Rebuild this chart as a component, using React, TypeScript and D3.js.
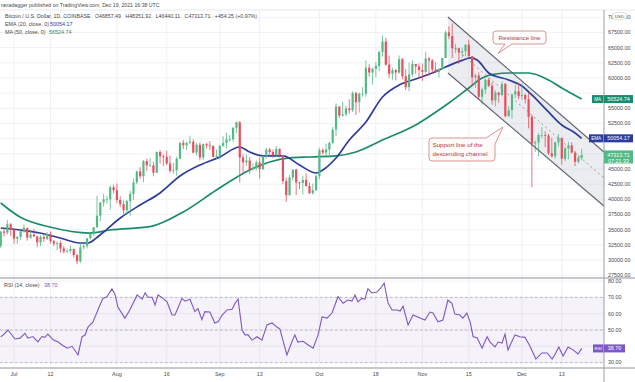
import React from 'react';
import * as d3 from 'd3';

// ---------- DATA ----------
const START = Date.UTC(2021, 5, 27); // Jun 27, 2021 (index 0)
const DAY = 86400000;

const OPEN = [
  32300, 34700, 34500, 35900,
  35000, 33500, 33800, 34700, 35300, 33700, 34200, 33900, 32900, 33800, 33500, 34300, 33100, 32700, 32800, 31900, 31400, 31500, 31800, 30800, 29800, 32100, 32300, 33600, 34300, 35400, 37300, 39500, 40000, 40000, 42000,
  41500, 39900, 39200, 38200, 39700, 40900, 42800, 44600, 43800, 46300, 45600, 45600, 44400, 47800, 47100, 47000, 45900, 44700, 44800, 46700, 49300, 48900, 49300, 49500, 47700, 49000, 46900, 49100, 48900, 48800, 47000,
  47200, 48800, 49300, 49900, 49900, 51800, 52700, 46900, 46100, 46400, 44900, 45200, 46100, 45000, 47100, 48200, 47800, 47300, 48300, 47300, 43000, 40700, 43600, 44900, 42800, 42700, 43200, 42200, 41000, 41500,
  43800, 48100, 47700, 48200, 49300, 51500, 55300, 53800, 54000, 55000, 54700, 57500, 56000, 57400, 57400, 61700, 60900, 61500, 62000, 64300, 66000, 62200, 60700, 61300, 60900, 63100, 60300, 58500, 60600, 62300, 61900,
  61300, 61000, 63200, 62900, 61400, 61000, 61500, 63300, 67500, 66900, 64900, 64900, 64200, 64400, 65500, 63600, 60100, 60400, 56900, 58100, 59700, 58700, 56300, 57600, 57200, 59000, 53700, 54700, 57300, 57800,
  57000, 57200, 56500, 53600, 49200, 49400, 50600, 50600, 50500, 47600, 47100, 49400, 50100, 46700, 48400, 48900, 47700, 46200, 46857.49,
];
const HIGH = [
  34700, 35300, 36600, 36100,
  35100, 33900, 34900, 35900, 35300, 35000, 35100, 33900, 34100, 34300, 34600, 34700, 33300, 33100, 33200, 32300, 31900, 32400, 31900, 31000, 32800, 32600, 33600, 34500, 35400, 40600, 39500, 40900, 40600, 42300, 42400,
  42600, 40500, 39800, 39900, 41400, 43400, 44700, 45300, 46500, 46700, 46800, 46200, 47900, 48100, 47400, 48000, 47200, 46000, 47000, 49400, 49800, 49500, 50500, 49900, 49300, 49400, 49200, 49300, 49600, 48900, 48200,
  49000, 50400, 51000, 50600, 51900, 52800, 52900, 47400, 47400, 47000, 45900, 46400, 46900, 47200, 48500, 48500, 48200, 48800, 48400, 47300, 43600, 44000, 44900, 45000, 42900, 43900, 44300, 42800, 42600, 44100,
  48500, 48400, 49200, 49500, 51900, 55800, 55300, 56100, 55500, 56500, 57800, 57700, 57600, 58500, 62900, 62300, 61700, 62600, 64500, 67000, 66600, 63700, 61700, 61500, 63700, 63300, 61500, 62500, 62900, 62300, 62400,
  62400, 64300, 63500, 63100, 62600, 61600, 63300, 67800, 68500, 69000, 65600, 65000, 65000, 65500, 66300, 63600, 60700, 60900, 58400, 59900, 60000, 59300, 58000, 57700, 59400, 59200, 55300, 57400, 58900, 59200,
  59100, 57400, 57600, 53900, 49700, 50900, 51900, 51200, 50800, 50100, 49500, 50800, 50200, 48700, 49500, 49400, 48000, 47300, 48351.92,
];
const LOW = [
  32000, 33900, 34200, 34000,
  32700, 32700, 33300, 34500, 33200, 33500, 33800, 32100, 32300, 33000, 33300, 32700, 32300, 31600, 31200, 31100, 31200, 31100, 30400, 29300, 29500, 31700, 31900, 33400, 33900, 35300, 36400, 38800, 39300, 38300, 41000,
  39400, 38700, 37600, 37500, 37300, 39900, 42500, 43400, 42800, 44700, 45400, 43800, 44300, 45900, 45500, 45700, 44400, 44200, 43900, 46600, 48300, 48100, 49100, 47600, 47200, 46400, 46400, 48400, 48100, 46900, 46700,
  46600, 48700, 48400, 49500, 49500, 50900, 42800, 44400, 45500, 44200, 44800, 44800, 43400, 44800, 46700, 47100, 46800, 47100, 46900, 42500, 39600, 40600, 43100, 40700, 41700, 40800, 42100, 40900, 40800, 41400,
  43300, 47400, 47100, 46900, 49100, 50400, 53400, 53600, 53700, 54100, 54400, 53900, 54300, 56900, 56900, 60200, 58900, 60100, 61100, 63500, 62000, 60000, 59700, 59600, 60700, 59800, 58000, 57800, 60200, 60700, 59900,
  59500, 60700, 60400, 60700, 60800, 60100, 61300, 63300, 66400, 63300, 64100, 62300, 63400, 63600, 63500, 58600, 58400, 56500, 55600, 57400, 58500, 55600, 55300, 55900, 57000, 53500, 53600, 53300, 56700, 56500,
  56400, 55800, 51700, 42000, 47800, 47100, 50100, 48600, 47300, 46900, 46700, 48700, 45700, 46300, 46600, 47600, 45500, 45900, 46440.11,
];
const CLOSE = [
  34700, 34500, 35900, 35000,
  33500, 33800, 34700, 35300, 33700, 34200, 33900, 32900, 33800, 33500, 34300, 33100, 32700, 32800, 31900, 31400, 31500, 31800, 30800, 29800, 32100, 32300, 33600, 34300, 35400, 37300, 39500, 40000, 40000, 42000, 41500,
  39900, 39200, 38200, 39700, 40900, 42800, 44600, 43800, 46300, 45600, 45600, 44400, 47800, 47100, 47000, 45900, 44700, 44800, 46700, 49300, 48900, 49300, 49500, 47700, 49000, 46900, 49100, 48900, 48800, 47000, 47200,
  48800, 49300, 49900, 49900, 51800, 52700, 46900, 46100, 46400, 44900, 45200, 46100, 45000, 47100, 48200, 47800, 47300, 48300, 47300, 43000, 40700, 43600, 44900, 42800, 42700, 43200, 42200, 41000, 41500, 43800,
  48100, 47700, 48200, 49300, 51500, 55300, 53800, 54000, 55000, 54700, 57500, 56000, 57400, 57400, 61700, 60900, 61500, 62000, 64300, 66000, 62200, 60700, 61300, 60900, 63100, 60300, 58500, 60600, 62300, 61900, 61300,
  61000, 63200, 62900, 61400, 61000, 61500, 63300, 67500, 66900, 64900, 64900, 64200, 64400, 65500, 63600, 60100, 60400, 56900, 58100, 59700, 58700, 56300, 57600, 57200, 59000, 53700, 54700, 57300, 57800, 57000,
  57200, 56500, 53600, 49200, 49400, 50600, 50600, 50500, 47600, 47100, 49400, 50100, 46700, 48400, 48900, 47700, 46200, 46857.49, 47313.71,
];

// EMA(20): [day index, price]
const EMA20: [number, number][] = [
  [0, 35280], [5.8, 34950], [11.8, 34460], [17.9, 33630], [23.9, 32810], [26.3, 32810], [29.9, 34130],
  [36, 36930], [42, 39070], [48, 41050], [54, 43850], [60, 45660], [66, 46980], [72, 48630], [75, 47800],
  [79, 47150], [85, 47150], [90, 45660], [95, 44340], [97, 44840], [101, 46820], [105, 49780], [110, 52750],
  [115, 56870], [120, 58850], [125, 59840], [130, 60820], [134, 61810], [139, 62900], [141.5, 63300], [143.5, 62970],
  [147, 60820], [153, 59670], [157, 58680], [160, 57200], [165, 54400], [169, 52250], [173, 50930], [175, 50054.17],
];
// MA(50)
const MA50: [number, number][] = [
  [0, 39400], [5.8, 37090], [14.8, 35440], [26.9, 34450], [32.9, 34950], [45, 35500], [55, 37920],
  [65, 41540], [75, 44840], [81, 46160], [87, 46820], [93, 46980], [101, 47150], [107, 47800], [115, 49780],
  [125, 52250], [132, 54730], [135, 55880], [141, 58350], [145, 60000], [149, 60660], [153, 60820],
  [159, 60820], [165, 59670], [169, 58350], [175, 56524.74],
];
// RSI(14)
const RSI: [number, number][] = [
  [0, 45.9], [0.8, 47], [2.2, 50], [4.3, 44.5], [5.8, 45], [7.3, 48], [8.2, 45], [9.7, 46], [11.2, 42.7],
  [12.4, 46], [13.3, 45.5], [14.2, 47.5], [15.8, 44], [17.3, 42.6], [18.5, 40.8], [20, 38.8], [21.5, 40],
  [23.3, 34.7], [24.5, 45.9], [25.4, 46.9], [26.3, 51.8], [27.8, 55], [29.9, 65.3], [30.8, 69.4], [32, 70.4],
  [33.5, 75.2], [34.4, 72.1], [35.3, 64.1], [37.4, 57.3], [38.9, 62.3], [41.1, 71.5], [42.6, 68.9], [43.5, 72.8],
  [44.4, 70.1], [45.6, 70.1], [46.5, 65.3], [47.4, 71.5], [48.9, 69.4], [50.1, 67.3], [51.6, 59.2], [52.5, 59.2],
  [54.6, 69.4], [55.5, 67.7], [57, 68.9], [58.5, 61.3], [59.4, 63.2], [60.6, 56.3], [61.5, 61.3], [63, 61],
  [64.5, 54.3], [65.5, 55], [66.7, 59.2], [68.2, 62.3], [69.7, 62.7], [70.6, 66.4], [71.5, 68.9], [72.7, 50],
  [73.6, 47], [74.5, 47], [75.7, 43.8], [77.2, 45.9], [78.7, 43.8], [80.2, 53.1], [81.7, 54.3], [83.2, 51.8],
  [84.1, 50.6], [85, 43.8], [86.2, 34.7], [87.7, 42.6], [88.6, 47], [89.5, 42.6], [91.1, 43.1], [92.6, 40.8],
  [94.1, 38.8], [95.6, 47], [96.8, 58], [98.3, 57.3], [99.8, 60.4], [101.6, 70.4], [103.1, 66.4], [104.6, 68.4],
  [105.8, 67.7], [106.7, 71.5], [107.6, 67.3], [108.8, 69.4], [109.7, 68.9], [110.6, 75.2], [111.8, 72.7],
  [113.3, 73.3], [114.5, 75.8], [115.5, 78.8], [116.7, 66.4], [117.9, 62.3], [119.4, 62.3], [120.3, 61.6],
  [121.2, 64.7], [122.7, 53.1], [124.2, 59.2], [126.3, 57.3], [127.8, 56.1], [129.3, 61], [130.2, 60.4],
  [131.7, 55], [133.2, 56.1], [134.7, 68.4], [135.9, 66.4], [136.8, 59.8], [138.3, 59.2], [139.2, 57.3],
  [140.4, 60.4], [141.4, 55], [142.3, 45.9], [143.5, 45.3], [145, 38.8], [146.5, 45.9], [147.4, 42.6],
  [148.9, 39.6], [149.8, 42.6], [151, 42], [151.9, 47.5], [152.8, 37.8], [154.9, 47], [156.4, 45.9],
  [157.9, 45.5], [159.4, 40.2], [161.2, 32.2], [163, 35.9], [164.6, 35.9], [166.1, 32.2], [166.9, 34.8],
  [168.1, 39.6], [169.4, 34], [170.9, 39.6], [172.4, 37.8], [173.9, 35.3], [175, 38.7],
];

// Descending channel drawn on the chart: [day index, price]
const CHANNEL_UPPER: [number, number][] = [[134.7, 70050], [181.7, 47800]];
const CHANNEL_LOWER: [number, number][] = [[134.7, 60820], [181.7, 38900]];
const CHANNEL_MID: [number, number][] = [[136.8, 64940], [181.7, 43520]];

const PRICE_TICKS = [27500, 30000, 32500, 35000, 37500, 40000, 42500, 45000, 47500, 50000, 52500, 55000, 57500, 60000, 62500, 65000, 67500, 70000];
const RSI_TICKS = [30, 40, 50, 60, 70, 80];
const TIME_TICKS: [string, string][] = [
  ['2021-07-01', 'Jul'], ['2021-07-12', '12'], ['2021-08-01', 'Aug'], ['2021-08-16', '16'],
  ['2021-09-01', 'Sep'], ['2021-09-13', '13'], ['2021-10-01', 'Oct'], ['2021-10-18', '18'],
  ['2021-11-01', 'Nov'], ['2021-11-15', '15'], ['2021-12-01', 'Dec'], ['2021-12-13', '13'],
];

// ---------- STYLE ----------
const W = 635, H = 382;
const AXIS_X = 604;
const TOP = 10, SPLIT = 278, BOTTOM = 368;
const UP = '#53b987', DOWN = '#eb4d5c';
const EMA_C = '#2e3d9c', MA_C = '#1b8c6b', RSI_C = '#7e57c2';
const GRID = '#eceef3';
const TXT = '#4a4a4a';
const FONT = 'Liberation Sans, Arial, sans-serif';

const dayDate = (d: number) => new Date(START + d * DAY);

export default function App() {
  const x = d3.scaleUtc().domain([dayDate(0), dayDate(175)]).range([0.7, 581.7]);
  const yP = d3.scaleLinear().domain([27500, 70000]).range([275.2, 17.3]);
  const yR = d3.scaleLinear().domain([30, 70]).range([362.6, 297.4]);
  const step = x(dayDate(1)) - x(dayDate(0));
  const bw = step * 0.66;

  const priceLine = d3.line<[number, number]>().x(d => x(dayDate(d[0]))).y(d => yP(d[1])).curve(d3.curveMonotoneX);
  const straight = d3.line<[number, number]>().x(d => x(dayDate(d[0]))).y(d => yP(d[1]));
  const rsiLine = d3.line<[number, number]>().x(d => x(dayDate(d[0]))).y(d => yR(d[1]));

  const chanPoly = [...CHANNEL_UPPER, ...[...CHANNEL_LOWER].reverse()]
    .map(d => `${x(dayDate(d[0]))},${yP(d[1])}`).join(' ');

  const lastClose = CLOSE[CLOSE.length - 1];
  const lastEma = EMA20[EMA20.length - 1][1];
  const lastMa = MA50[MA50.length - 1][1];
  const lastRsi = RSI[RSI.length - 1][1];

  // axis labels that sit under a value tag are hidden, as on the original
  const priceTagYs = [yP(lastClose) + 2, yP(lastEma), yP(lastMa)];
  const visiblePriceTicks = PRICE_TICKS.filter(t => priceTagYs.every(v => Math.abs(yP(t) - v) > 6.5));
  const visibleRsiTicks = RSI_TICKS.filter(t => Math.abs(yR(t) - yR(lastRsi)) > 6);

  const fs = 5.4;

  return (
    <svg width={W} height={H} style={{ position: 'absolute', left: 0, top: 0, background: '#fff' }} fontFamily={FONT}>
      <defs>
        <clipPath id="pclip"><rect x={0} y={TOP} width={AXIS_X} height={SPLIT - TOP} /></clipPath>
        <clipPath id="rclip"><rect x={0} y={SPLIT} width={AXIS_X} height={BOTTOM - SPLIT} /></clipPath>
      </defs>
      <rect x={0} y={0} width={W} height={H} fill="#fff" />

      {/* header */}
      <text x={1} y={6.5} fontSize={5.2} fill={TXT}>ranadagger published on TradingView.com, Dec 19, 2021 16:38 UTC</text>

      {/* grid */}
      {PRICE_TICKS.map(t => (
        <line key={'pg' + t} x1={0} x2={AXIS_X} y1={yP(t)} y2={yP(t)} stroke={GRID} strokeWidth={0.8} />
      ))}
      {RSI_TICKS.map(t => (
        <line key={'rg' + t} x1={0} x2={AXIS_X} y1={yR(t)} y2={yR(t)} stroke={GRID} strokeWidth={0.8} />
      ))}
      {TIME_TICKS.map(([d]) => {
        const xx = x(new Date(d + 'T00:00:00Z'));
        return <line key={'vg' + d} x1={xx} x2={xx} y1={TOP} y2={BOTTOM} stroke={GRID} strokeWidth={0.8} />;
      })}

      {/* price panel */}
      <g clipPath="url(#pclip)">
        <polygon points={chanPoly} fill="#c9ccd6" fillOpacity={0.35} />
        <path d={priceLine(MA50) || ''} fill="none" stroke={MA_C} strokeWidth={1.7} />
        <path d={priceLine(EMA20) || ''} fill="none" stroke={EMA_C} strokeWidth={1.7} />
        {OPEN.map((o, i) => {
          const c = CLOSE[i];
          const col = c >= o ? UP : DOWN;
          const cx = x(dayDate(i));
          const top = yP(Math.max(o, c));
          const h = Math.max(0.8, Math.abs(yP(o) - yP(c)));
          return (
            <g key={'c' + i}>
              <line x1={cx} x2={cx} y1={yP(HIGH[i])} y2={yP(LOW[i])} stroke={col} strokeWidth={0.8} />
              <rect x={cx - bw / 2} y={top} width={bw} height={h} fill={col} />
            </g>
          );
        })}
        <path d={straight(CHANNEL_UPPER) || ''} stroke="#5f6470" strokeWidth={1.2} fill="none" />
        <path d={straight(CHANNEL_LOWER) || ''} stroke="#5f6470" strokeWidth={1.2} fill="none" />
        <path d={straight(CHANNEL_MID) || ''} stroke="#8a8e99" strokeWidth={0.9} strokeDasharray="2,3" fill="none" />
      </g>

      {/* callouts */}
      <path d="M496,31 H543 Q546,31 546,34 V41 Q546,44 543,44 H512 L498,53.5 L505,44 H496 Q493,44 493,41 V34 Q493,31 496,31 Z"
        fill="#fffafa" stroke="#d48b8b" strokeWidth={0.9} />
      <text x={519.5} y={39.8} fontSize={6.2} fill="#b0403c" textAnchor="middle">Resistance line</text>
      <path d="M432,138 H486 L503,127 L495,144 V158 Q495,161 492,161 H432 Q429,161 429,158 V141 Q429,138 432,138 Z"
        fill="#fffafa" stroke="#d48b8b" strokeWidth={0.9} />
      <text x={432.5} y={147} fontSize={6.2} fill="#b0403c">Support line of the</text>
      <text x={432.5} y={155.5} fontSize={6.2} fill="#b0403c">descending channel</text>

      {/* legend */}
      <text x={5} y={18} fontSize={5.2} fill={TXT} textLength={252} lengthAdjust="spacing" style={{ whiteSpace: 'pre' }}>
        {'Bitcoin / U.S. Dollar, 1D, COINBASE   O46857.49   H48351.92   L46440.11   C47313.71   +454.25 (+0.97%)'}
      </text>
      <text x={5} y={26} fontSize={fs} fill={TXT}>EMA (20, close, 0)</text>
      <text x={50} y={26} fontSize={fs} fill={EMA_C}>{lastEma.toFixed(2)}</text>
      <text x={5} y={34} fontSize={fs} fill={TXT}>MA (50, close, 0)</text>
      <text x={49} y={34} fontSize={fs} fill={MA_C}>{lastMa.toFixed(2)}</text>

      {/* RSI panel */}
      <rect x={0} y={yR(70)} width={AXIS_X} height={yR(30) - yR(70)} fill={RSI_C} fillOpacity={0.08} />
      {[70, 50, 30].map(v => (
        <line key={'rb' + v} x1={0} x2={AXIS_X} y1={yR(v)} y2={yR(v)} stroke="#a3a3ad" strokeWidth={0.7} strokeDasharray="2.5,2.5" />
      ))}
      <g clipPath="url(#rclip)">
        <path d={rsiLine(RSI) || ''} fill="none" stroke={RSI_C} strokeWidth={1.1} />
      </g>
      <text x={4} y={287} fontSize={fs} fill={TXT}>RSI (14, close)</text>
      <text x={44} y={287} fontSize={fs} fill={RSI_C}>{lastRsi.toFixed(2)}</text>

      {/* frame lines */}
      <line x1={0} x2={W} y1={TOP} y2={TOP} stroke="#e0e3eb" strokeWidth={0.8} />
      <line x1={0} x2={W} y1={SPLIT} y2={SPLIT} stroke="#8f929b" strokeWidth={1} />
      <line x1={0} x2={W} y1={BOTTOM} y2={BOTTOM} stroke="#8f929b" strokeWidth={1} />
      <line x1={AXIS_X} x2={AXIS_X} y1={TOP} y2={H} stroke="#9a9da6" strokeWidth={1} />

      {/* price axis labels */}
      {visiblePriceTicks.map(t => (
        <text key={'pl' + t} x={608} y={yP(t)} dy="0.35em" fontSize={fs} fill={TXT}>{t.toFixed(2)}</text>
      ))}
      <rect x={612.5} y={12.6} width={14} height={7} rx={3} fill="#fff" stroke="#c8cad0" strokeWidth={0.6} />
      <text x={619.5} y={17.8} fontSize={4.4} fill={TXT} textAnchor="middle">USD</text>
      {visibleRsiTicks.map(t => (
        <text key={'rl' + t} x={608} y={yR(t)} dy="0.35em" fontSize={fs} fill={TXT}>{t.toFixed(2)}</text>
      ))}

      {/* time axis labels */}
      {TIME_TICKS.map(([d, lab]) => (
        <text key={'tl' + d} x={x(new Date(d + 'T00:00:00Z'))} y={376} fontSize={fs} fill={TXT} textAnchor="middle">{lab}</text>
      ))}

      {/* value tags */}
      <rect x={592} y={yP(lastMa) - 4} width={11.5} height={8} fill={MA_C} />
      <text x={597.7} y={yP(lastMa)} dy="0.35em" fontSize={4.6} fill="#fff" textAnchor="middle">MA</text>
      <rect x={AXIS_X} y={yP(lastMa) - 4} width={29} height={8} fill={MA_C} />
      <text x={618.5} y={yP(lastMa)} dy="0.35em" fontSize={fs} fill="#fff" textAnchor="middle">{lastMa.toFixed(2)}</text>

      <rect x={589} y={yP(lastEma) - 4} width={14.5} height={8} fill={EMA_C} />
      <text x={596.2} y={yP(lastEma)} dy="0.35em" fontSize={4.6} fill="#fff" textAnchor="middle">EMA</text>
      <rect x={AXIS_X} y={yP(lastEma) - 4} width={29} height={8} fill={EMA_C} />
      <text x={618.5} y={yP(lastEma)} dy="0.35em" fontSize={fs} fill="#fff" textAnchor="middle">{lastEma.toFixed(2)}</text>

      <rect x={AXIS_X} y={yP(lastClose) - 4.5} width={29} height={13} fill={UP} />
      <text x={618.5} y={yP(lastClose)} dy="0.35em" fontSize={fs} fill="#fff" textAnchor="middle">{lastClose.toFixed(2)}</text>
      <text x={618.5} y={yP(lastClose) + 5.8} dy="0.35em" fontSize={fs} fill="#fff" textAnchor="middle">07:21:33</text>

      <rect x={593} y={yR(lastRsi) - 4} width={10.5} height={8} fill={RSI_C} />
      <text x={598.2} y={yR(lastRsi)} dy="0.35em" fontSize={4.4} fill="#fff" textAnchor="middle">RSI</text>
      <rect x={AXIS_X} y={yR(lastRsi) - 4} width={21} height={8} fill={RSI_C} />
      <text x={614.5} y={yR(lastRsi)} dy="0.35em" fontSize={fs} fill="#fff" textAnchor="middle">{lastRsi.toFixed(2)}</text>
    </svg>
  );
}
